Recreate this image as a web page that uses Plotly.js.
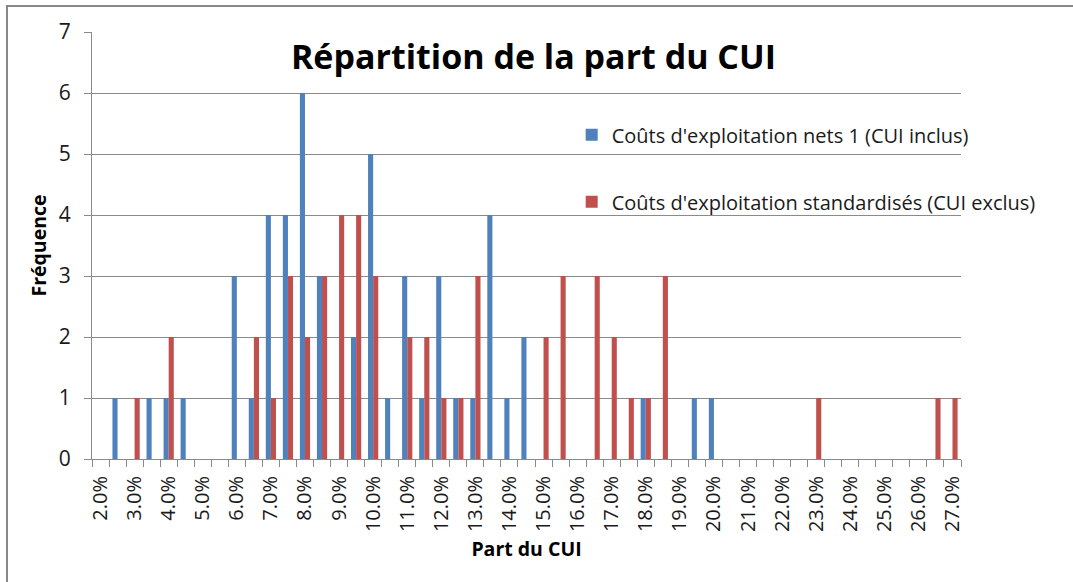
<!DOCTYPE html>
<html>
<head>
<meta charset="utf-8">
<script src="https://cdn.plot.ly/plotly-3.0.1.min.js"></script>
<style>
  html, body { margin: 0; padding: 0; background: #ffffff; }
  #chart { width: 1073px; height: 582px; }
</style>
</head>
<body>
<div id="chart"></div>
<script>
// Bin centres (Part du CUI, in %)
const bins = [2.0, 2.5, 3.0, 3.5, 4.0, 4.5, 5.0, 5.5, 6.0, 6.5,
              7.0, 7.5, 8.0, 8.5, 9.0, 9.5, 10.0, 10.5, 11.0, 11.5,
              12.0, 12.5, 13.0, 13.5, 14.0, 14.5, 15.0, 15.5, 16.0, 16.5,
              17.0, 17.5, 18.0, 18.5, 19.0, 19.5, 20.0, 20.5, 21.0, 21.5,
              22.0, 22.5, 23.0, 23.5, 24.0, 24.5, 25.0, 25.5, 26.0, 26.5,
              27.0];

// Fréquence – Coûts d'exploitation nets 1 (CUI inclus)
const netsInclus = [0, 1, 0, 1, 1, 1, 0, 0, 3, 1,
                    4, 4, 6, 3, 0, 2, 5, 1, 3, 1,
                    3, 1, 1, 4, 1, 2, 0, 0, 0, 0,
                    0, 0, 1, 0, 0, 1, 1, 0, 0, 0,
                    0, 0, 0, 0, 0, 0, 0, 0, 0, 0,
                    0];

// Fréquence – Coûts d'exploitation standardisés (CUI exclus)
const standardExclus = [0, 0, 1, 0, 2, 0, 0, 0, 0, 2,
                        1, 3, 2, 3, 4, 4, 3, 0, 2, 2,
                        1, 1, 3, 0, 0, 0, 2, 3, 0, 3,
                        2, 1, 1, 3, 0, 0, 0, 0, 0, 0,
                        0, 0, 1, 0, 0, 0, 0, 0, 0, 1,
                        1];

const seriesNames = ["Coûts d'exploitation nets 1 (CUI inclus)",
                     "Coûts d'exploitation standardisés (CUI exclus)"];

const FONT = "'Open Sans', 'Noto Sans', sans-serif";
const GRID = "#8a8a8a";
const TXT = "#1a1a1a";

const traces = [
  { type: "bar", x: bins, y: netsInclus, name: seriesNames[0],
    marker: { color: "#4F81BD" }, legendgroup: "a" },
  { type: "bar", x: bins, y: standardExclus, name: seriesNames[1],
    marker: { color: "#C0504D" }, legendgroup: "b" }
];

const layout = {
  width: 1073, height: 582,
  paper_bgcolor: "#ffffff", plot_bgcolor: "#ffffff",
  margin: { l: 92, r: 112, t: 32, b: 123, pad: 0 },
  font: { family: FONT, color: TXT, size: 18 },
  barmode: "group", bargap: 0.4, bargroupgap: 0,
  title: {
    text: "<b>Répartition de la part du CUI</b>",
    font: { family: FONT, size: 34, color: "#000000" },
    xref: "paper", x: 0.508, xanchor: "center",
    yref: "container", y: 0.902, yanchor: "middle"
  },
  xaxis: {
    type: "linear", range: [1.75, 27.25],
    tick0: 2, dtick: 1, ticks: "", tickangle: -90,
    tickformat: ".1f", ticksuffix: "%",
    ticklabelstandoff: 8,
    tickfont: { family: FONT, size: 20, color: TXT },
    showgrid: false, zeroline: false,
    showline: true, linecolor: GRID, linewidth: 1,
    minor: { tick0: 1.75, dtick: 0.5, ticks: "outside", ticklen: 7,
             tickcolor: GRID, tickwidth: 1, showgrid: false },
    automargin: false,
    title: { text: "<b>Part du CUI</b>", standoff: 11,
             font: { family: FONT, size: 19.5, color: "#000000" } }
  },
  yaxis: {
    range: [0, 7], dtick: 1, tick0: 0,
    ticks: "outside", ticklen: 7, tickcolor: GRID,
    ticklabelstandoff: 9,
    tickfont: { family: FONT, size: 21, color: TXT },
    showgrid: true, gridcolor: GRID, gridwidth: 1,
    zeroline: false, showline: true, linecolor: GRID, linewidth: 1,
    automargin: false,
    title: { text: "<b>Fréquence</b>", standoff: 6,
             font: { family: FONT, size: 19.5, color: "#000000" } }
  },
  showlegend: true,
  legend: {
    xref: "paper", yref: "paper",
    x: 0.552, y: 0.805, xanchor: "left", yanchor: "top",
    bgcolor: "rgba(0,0,0,0)", borderwidth: 0,
    traceorder: "grouped", tracegroupgap: 38,
    font: { family: FONT, size: 20, color: TXT },
    itemclick: false
  },
  shapes: [
    { type: "rect", xref: "paper", yref: "paper",
      x0: -0.0978, x1: 1.25, y0: -0.6, y1: 1.061,
      line: { color: "#888888", width: 2 }, fillcolor: "rgba(0,0,0,0)",
      layer: "below" }
  ]
};

Plotly.newPlot("chart", traces, layout, { displayModeBar: false, staticPlot: true });
</script>
</body>
</html>
